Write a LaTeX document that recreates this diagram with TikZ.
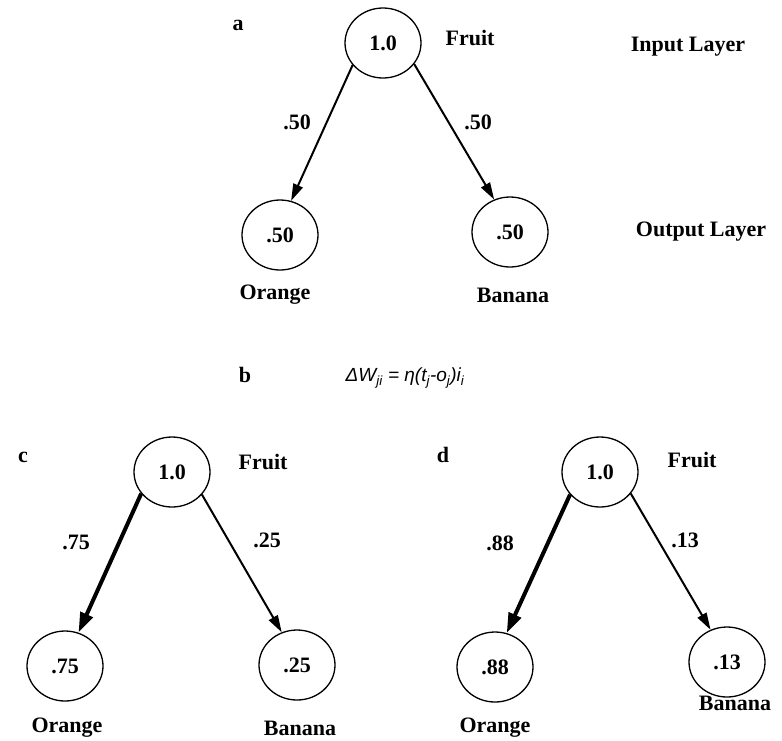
\documentclass[tikz,border=0pt]{standalone}
\usepackage{fontspec}
\setmainfont{Liberation Serif}
\newfontfamily\rulefont{Liberation Sans}
\usetikzlibrary{positioning,shapes.geometric,arrows.meta}

\begin{document}
\begin{tikzpicture}[
    x=1pt, y=-1pt,
    unit/.style={ellipse,draw,line width=1.3pt,minimum width=76pt,minimum height=70pt,inner sep=0pt},
    wire/.style={-{Triangle[length=17pt,width=10pt]},line width=2pt},
    heavy/.style={-{Triangle[length=20pt,width=13pt]},line width=4pt},
    font=\fontsize{22}{24}\selectfont\bfseries
    ]
    \useasboundingbox (0,0) rectangle (782,740);

    % panel a:
    \node (a) at (238,25) {a};
    \node (ta) at (383,43) [unit] {1.0};
    \node (la) at (280,235) [unit] {.50};
    \node (ra) at (510,232) [unit] {.50};
    \node (fa) at (470,38) {Fruit};
    \node (oa) at (275,295) {Orange};
    \node (ba) at (513,295) {Banana};
    \node (inl) at (688,47) {Input Layer};
    \node (outl) at (701,232) {Output Layer};
    \node (wla) at (297,122) {.50};
    \node (wra) at (478,122) {.50};

    % panel b:
    \node (b) at (245,375) {b};
    \node (rule) at (405,378) [font=\rulefont\itshape\fontsize{19}{21}\selectfont]
      {ΔW\textsubscript{ji} = η(t\textsubscript{j}-o\textsubscript{j})i\textsubscript{i}};

    % panel c:
    \node (c) at (23,457) {c};
    \node (tc) at (172,472) [unit] {1.0};
    \node (lc) at (65,666) [unit] {.75};
    \node (rc) at (297,665) [unit] {.25};
    \node (fc) at (263,462) {Fruit};
    \node (oc) at (67,728) {Orange};
    \node (bc) at (300,728) {Banana};
    \node (wlc) at (76,542) {.75};
    \node (wrc) at (267,540) {.25};

    % panel d:
    \node (d) at (443,455) {d};
    \node (td) at (600,472) [unit] {1.0};
    \node (ld) at (495,667) [unit] {.88};
    \node (rd) at (727,662) [unit] {.13};
    \node (fd) at (692,460) {Fruit};
    \node (od) at (495,728) {Orange};
    \node (bd) at (735,703) {Banana};
    \node (wld) at (500,543) {.88};
    \node (wrd) at (685,540) {.13};

    % connections:
    \draw [wire] (ta.216) -- (la.72);
    \draw [wire] (ta.326) -- (ra.116);
    \draw [heavy] (tc.215) -- (lc.68);
    \draw [wire] (tc.323) -- (rc.115);
    \draw [heavy] (td.217) -- (ld.71);
    \draw [wire] (td.325) -- (rd.117);

\end{tikzpicture}
\end{document}
